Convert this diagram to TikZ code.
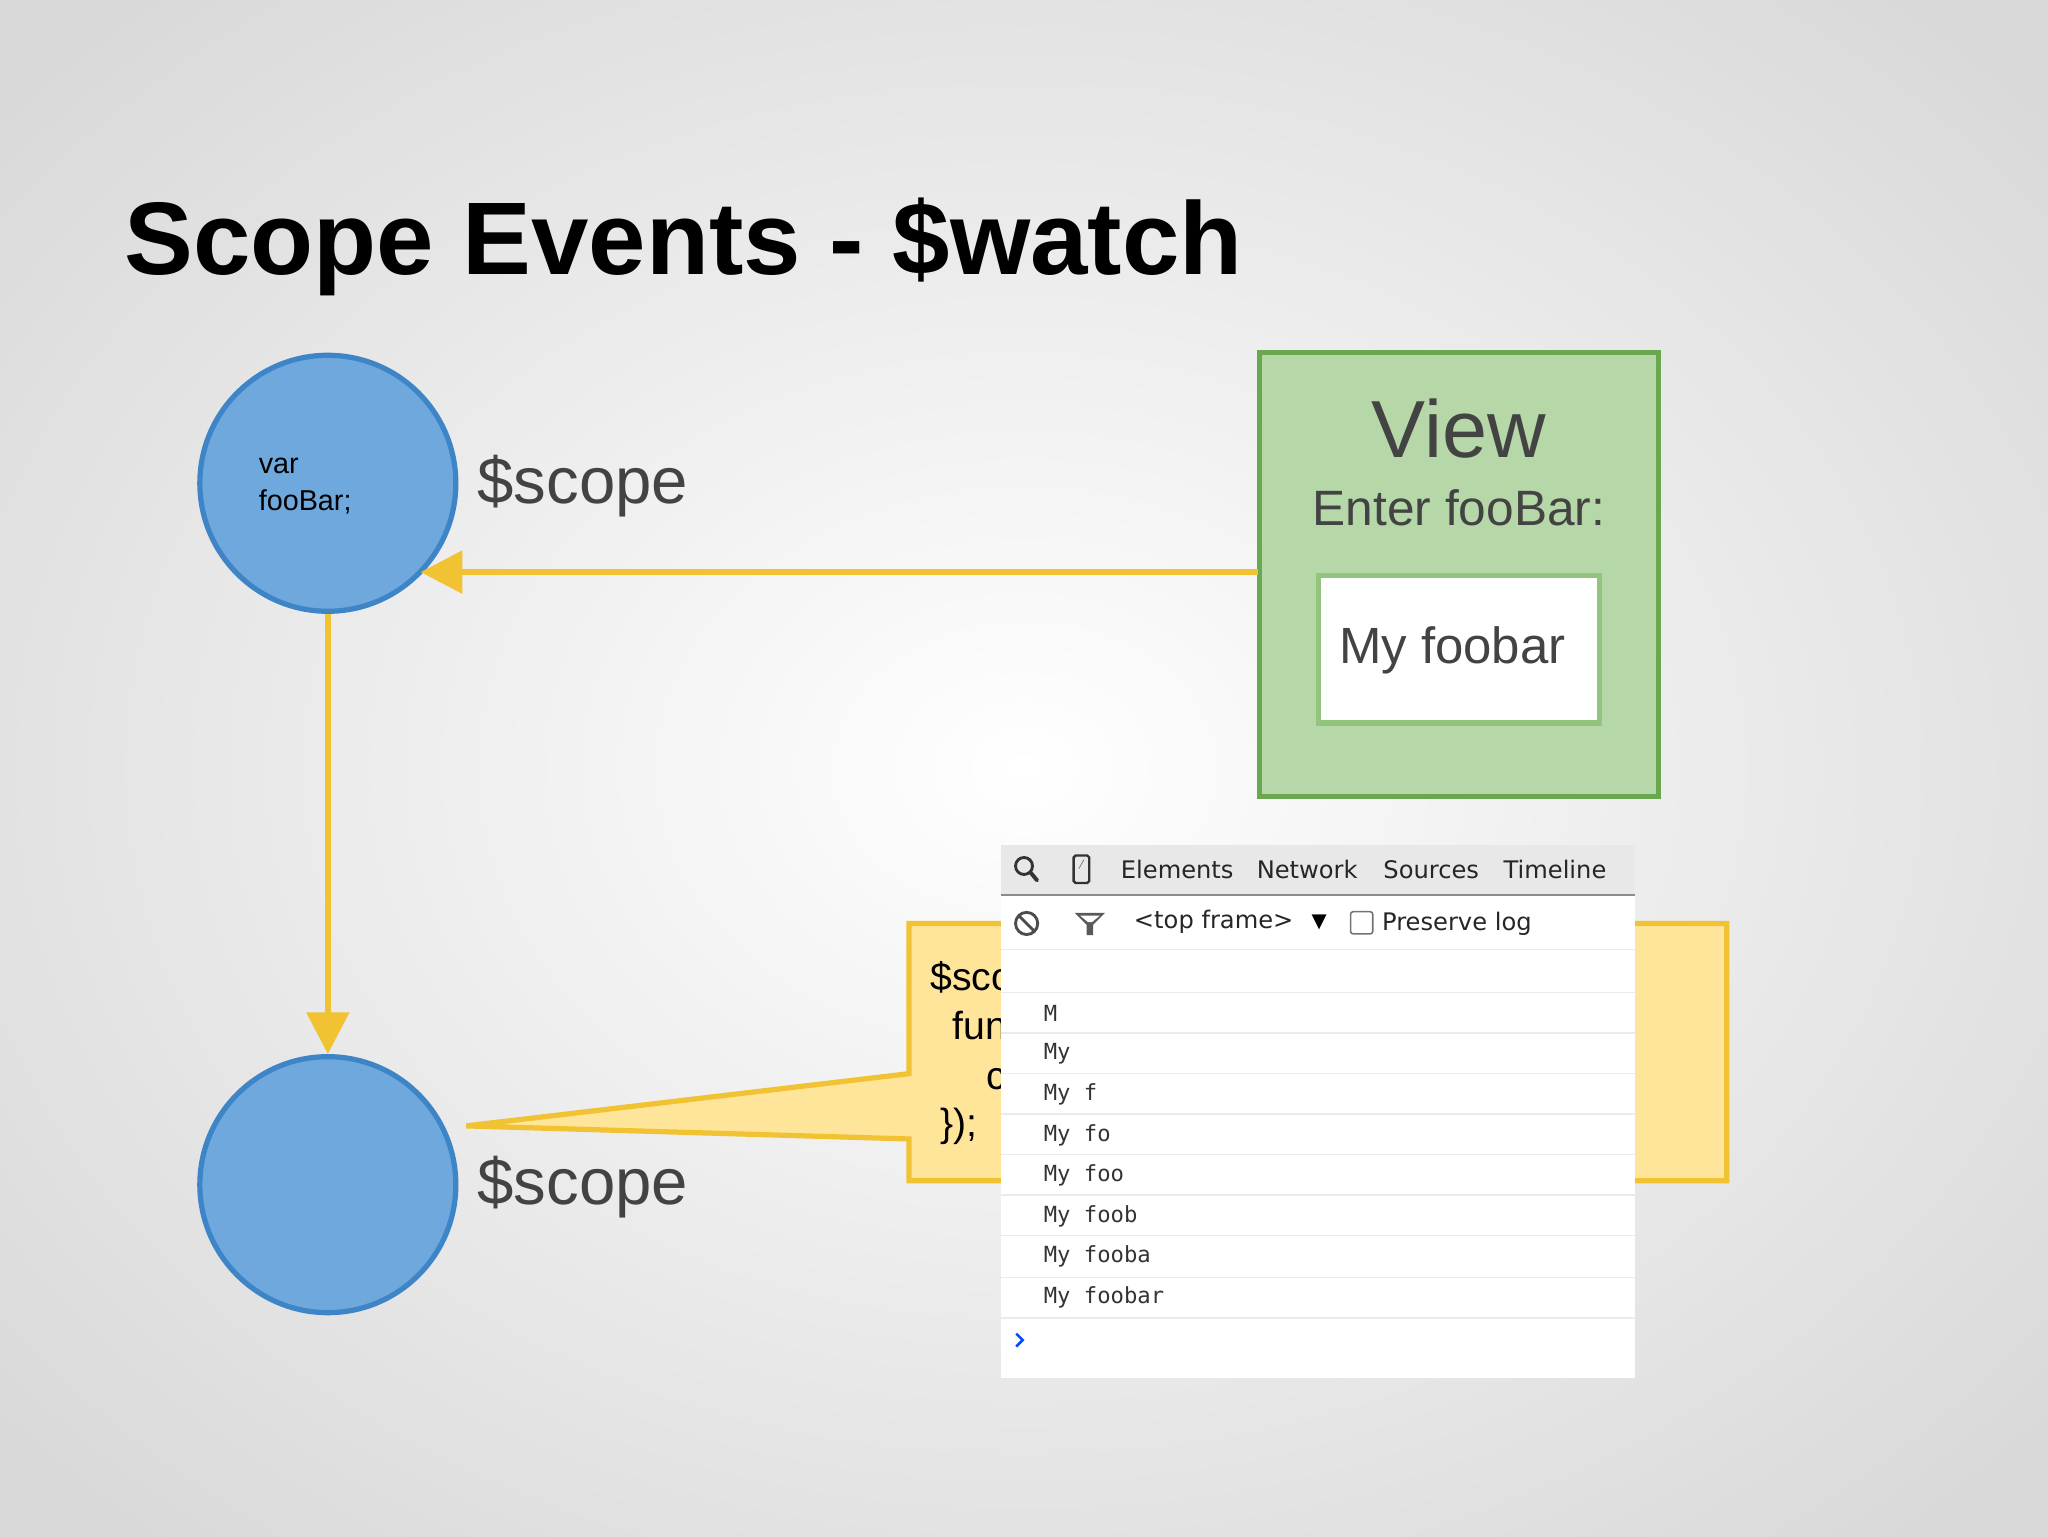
\documentclass[tikz,border=0pt]{standalone}
\usepackage{fontspec}
\setmainfont{Liberation Sans}
\newfontfamily\ui{DejaVu Sans}
\newfontfamily\mono{DejaVu Sans Mono}
\usetikzlibrary{arrows.meta}
\definecolor{circfill}{HTML}{6FA8DC}
\definecolor{circline}{HTML}{3D85C6}
\definecolor{gfill}{HTML}{B6D7A8}
\definecolor{gline}{HTML}{6AA84F}
\definecolor{gline2}{HTML}{93C47D}
\definecolor{yfill}{HTML}{FFE599}
\definecolor{yline}{HTML}{F1C232}
\definecolor{txt}{HTML}{434343}
\newcommand{\fs}[1]{\fontsize{#1}{#1}\selectfont}
\tikzset{
  scopecirc/.style={circle,draw=circline,line width=4pt,fill=circfill,minimum size=196pt,inner sep=0pt},
  yarrow/.style={draw=yline,line width=5pt,-{Triangle[length=32pt,width=32pt]}},
  sublabel/.style={anchor=west,text=txt,font=\fs{50}},
  rowline/.style={draw=black!8,line width=1.2pt},
  consoletxt/.style={anchor=west,font=\mono\fs{17},text=black!80,inner sep=0pt},
  tabtxt/.style={anchor=west,font=\ui\fs{18.5},text=black!85,inner sep=0pt},
  codetxt/.style={anchor=west,font=\fs{30},inner sep=0pt},
}
\begin{document}
\begin{tikzpicture}[x=1pt,y=-1pt]
\useasboundingbox (0,0) rectangle (1568,1176);
\shade[inner color=white,outer color=black!15] (-250,-200) rectangle (1818,1376);
\node[anchor=base west,font=\bfseries\fs{79},inner sep=0pt] (title) at (95,210) {Scope Events - \$watch};
% circles
\node[scopecirc] (c1) at (251,370) {};
\node[anchor=west,align=left,font=\fs{22},inner sep=0pt] (v) at (198,372) {var\\[6pt]fooBar;};
\node[sublabel] (s1) at (362,372) {\$scope};
\node[scopecirc] (c2) at (251,907) {};
\node[sublabel] (s2) at (362,909) {\$scope};
% view box
\node[draw=gline,line width=4pt,fill=gfill,minimum width=305pt,minimum height=340pt,inner sep=0pt] (view) at (1117,440) {};
\node[text=txt,font=\fs{62},inner sep=0pt] (vt) at (1117,328) {View};
\node[text=txt,font=\fs{38},inner sep=0pt] (et) at (1117,389) {Enter fooBar:};
\node[draw=gline2,line width=4pt,fill=white,minimum width=215pt,minimum height=113pt,inner sep=0pt] (inp) at (1117,497) {};
\node[text=txt,font=\fs{39},inner sep=0pt] (it) at (1112,498) {My foobar};
% arrows
\coordinate (a1s) at (963,438);
\coordinate (a1e) at (322,438);
\draw[yarrow] (a1s) -- (a1e);
\draw[yarrow] (c1.south) -- (c2.north);
% callout
\coordinate (tip) at (357,862);
\draw[fill=yfill,draw=yline,line width=4pt,line join=miter] (696,707) -- (1322,707) -- (1322,904) -- (696,904) -- (696,872) -- (tip) -- (696,822) -- cycle;
\begin{scope}
\clip (698,709) rectangle (766,902);
\node[codetxt] (l1) at (712,750) {\$scope.\$watch('fooBar',};
\node[codetxt] (l2) at (729,788) {function(newVal) \{};
\node[codetxt] (l3) at (755,826) {console.log(newVal);};
\node[codetxt] (l4) at (720,862) {\});};
\end{scope}
% devtools panel
\fill[white] (766,647) rectangle (1252,1055);
\fill[black!9] (766,647) rectangle (1252,685);
\draw[black!45,line width=1.5pt] (766,685) -- (1252,685);
\draw[line width=2.2pt,black!80] (784,663) circle (6.5);
\draw[line width=3pt,black!80,line cap=round] (789,668) -- (794,674);
\draw[line width=1.8pt,black!80,rounded corners=1.5pt] (822,655) rectangle (834,676);
\draw[line width=0.6pt,black!50] (826,665) -- (830,658);
\node[tabtxt] (t1) at (858,666) {Elements};
\node[tabtxt] (t2) at (962,666) {Network};
\node[tabtxt] (t3) at (1059,666) {Sources};
\node[tabtxt] (t4) at (1151,666) {Timeline};
\draw[line width=2.2pt,black!70] (786,707) circle (8.5);
\draw[line width=2.2pt,black!70] (780,701) -- (792,713);
\fill[black!65] (823,699) -- (846,699) -- (837,708) -- (837,716) -- (832,716) -- (832,708) -- cycle;
\fill[white] (827,701) -- (842,701) -- (836,706) -- (833,706) -- cycle;
\node[tabtxt] (t5) at (868,706) {<top frame>};
\node[anchor=center,font=\ui\fs{15},inner sep=0pt] (dd) at (1010,706) {▼};
\draw[black!55,line width=1.2pt,rounded corners=2pt] (1034,698) rectangle (1051,715);
\node[tabtxt] (t6) at (1058,707) {Preserve log};
\draw[rowline] (766,727) -- (1252,727);
\foreach \y in {760,791,822,853,884,915,946,978,1009} \draw[rowline] (766,\y) -- (1252,\y);
\node[consoletxt] (r1) at (799,776) {M};
\node[consoletxt] (r2) at (799,807) {My};
\node[consoletxt] (r3) at (799,838) {My f};
\node[consoletxt] (r4) at (799,869) {My fo};
\node[consoletxt] (r5) at (799,900) {My foo};
\node[consoletxt] (r6) at (799,931) {My foob};
\node[consoletxt] (r7) at (799,962) {My fooba};
\node[consoletxt] (r8) at (799,993) {My foobar};
\draw[line width=2pt,blue!70!cyan] (778,1021) -- (783,1026) -- (778,1031);
\end{tikzpicture}
\end{document}
